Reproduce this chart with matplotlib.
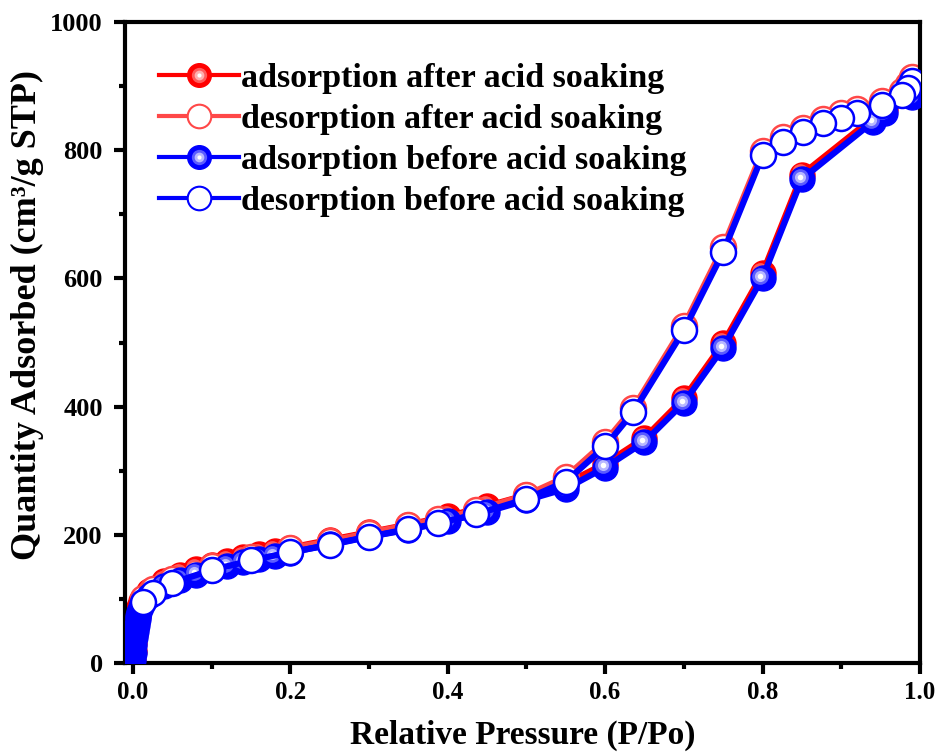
import numpy as np
import matplotlib
matplotlib.use("Agg")
import matplotlib.pyplot as plt
from matplotlib.lines import Line2D
from matplotlib.ticker import MultipleLocator, FormatStrFormatter
from matplotlib.transforms import ScaledTranslation

plt.rcParams['font.family'] = ['Liberation Serif', 'DejaVu Serif']
plt.rcParams['font.weight'] = 'bold'

#   Isotherm data (P/Po, cm3/g STP)
adsBeforeX = [0.0005, 0.001, 0.002, 0.003, 0.004, 0.005, 0.006, 0.007, 0.008, 0.01,
              0.02, 0.04, 0.06, 0.08, 0.10, 0.12, 0.14, 0.16, 0.18, 0.20,
              0.25, 0.30, 0.35, 0.40, 0.45, 0.50, 0.55, 0.60, 0.65, 0.70,
              0.75, 0.80, 0.85, 0.94, 0.955, 0.99]
adsBeforeY = [5, 15, 28, 40, 50, 60, 68, 74, 80, 88,
              105, 120, 130, 138, 145, 151, 157, 162, 167, 172,
              185, 197, 208, 221, 236, 254, 272, 305, 345, 406,
              492, 601, 755, 844, 858, 883]
adsAfterY = [7, 18, 32, 45, 56, 66, 75, 82, 88, 96,
             113, 128, 138, 146, 153, 159, 165, 170, 175, 180,
             192, 204, 216, 229, 245, 262, 280, 311, 351, 413,
             499, 608, 762, 850, 864, 889]

desX = [0.99, 0.985, 0.977, 0.952, 0.92, 0.90, 0.877, 0.851, 0.826, 0.80,
        0.75, 0.70, 0.636, 0.60, 0.55, 0.50, 0.436, 0.388, 0.35, 0.30,
        0.25, 0.20, 0.15, 0.10, 0.05, 0.025, 0.0125]
desBeforeY = [908, 897, 886, 870, 858, 851, 842, 828, 813, 792,
              641, 519, 392, 338, 283, 256, 232, 218, 209, 197,
              184, 173, 160, 145, 125, 110, 95]
desAfterY = [914, 903, 892, 877, 865, 858, 849, 835, 820, 799,
             649, 526, 398, 345, 290, 262, 238, 224, 215, 203,
             190, 179, 166, 151, 131, 116, 101]

labels = ['adsorption after acid soaking', 'desorption after acid soaking',
          'adsorption before acid soaking', 'desorption before acid soaking']

fig = plt.figure(figsize=(9.42, 7.53), dpi=100)
ax = fig.add_axes([0.1327, 0.1195, 0.8439, 0.8513])

red = '#ff0000'
redLight = '#ff4848'
blue = '#0000ff'
ms = 18
lw = 4.5
shift = ax.transData + ScaledTranslation(-1.5/72, 1.5/72, fig.dpi_scale_trans)

#   fake shaded sphere: soft glow + white spot, skipped in the crowded low P part
def sphere(x, y, glow, glow2, z):
    x = np.array(x)
    y = np.array(y)
    keep = x > 0.015
    ax.plot(x[keep], y[keep], 'o', ms=ms - 6, color=glow2, mec='none', zorder=z, transform=shift)
    ax.plot(x[keep], y[keep], 'o', ms=ms - 10, color=glow, mec='none', zorder=z, transform=shift)
    ax.plot(x[keep], y[keep], 'o', ms=ms - 14, color='white', mec='none', zorder=z, transform=shift)

#   After acid soaking (red) drawn first, underneath
ax.plot(adsBeforeX, adsAfterY, '-o', color=red, lw=lw, ms=ms, mec=red, zorder=2)
sphere(adsBeforeX, adsAfterY, '#ffb0b0', '#ff5c5c', 2.1)
ax.plot(desX, desAfterY, '-o', color=redLight, lw=lw, ms=ms, mfc='white',
        mec=redLight, mew=1.8, zorder=2.5)

#   Before acid soaking (blue) on top
ax.plot(adsBeforeX, adsBeforeY, '-o', color=blue, lw=lw, ms=ms, mec=blue, zorder=3)
sphere(adsBeforeX, adsBeforeY, '#b8b8ff', '#5c5cff', 3.1)
ax.plot(desX, desBeforeY, '-o', color=blue, lw=lw, ms=ms, mfc='white',
        mec=blue, mew=1.8, zorder=3.5)

#   Legend handles
lms = 17
h1 = (Line2D([], [], color=red, lw=3, marker='o', ms=lms, mec=red),
      Line2D([], [], ls='none', marker='o', ms=lms - 6, color='#ff5c5c', mec='none'),
      Line2D([], [], ls='none', marker='o', ms=lms - 10, color='#ffb0b0', mec='none'),
      Line2D([], [], ls='none', marker='o', ms=lms - 14, color='white', mec='none'))
h2 = Line2D([], [], color=redLight, lw=3, marker='o', ms=lms, mfc='white', mec=redLight, mew=1.5)
h3 = (Line2D([], [], color=blue, lw=3, marker='o', ms=lms, mec=blue),
      Line2D([], [], ls='none', marker='o', ms=lms - 6, color='#5c5cff', mec='none'),
      Line2D([], [], ls='none', marker='o', ms=lms - 10, color='#b8b8ff', mec='none'),
      Line2D([], [], ls='none', marker='o', ms=lms - 14, color='white', mec='none'))
h4 = Line2D([], [], color=blue, lw=3, marker='o', ms=lms, mfc='white', mec=blue, mew=1.5)
ax.legend([h1, h2, h3, h4], labels, loc='upper left', bbox_to_anchor=(0.026, 0.958),
          frameon=False, fontsize=24.5, handlelength=2.35, handletextpad=0.05,
          labelspacing=0.3, borderaxespad=0)

ax.set_xlim(-0.01, 1.0)
ax.set_ylim(0, 1000)
ax.xaxis.set_major_locator(MultipleLocator(0.2))
ax.xaxis.set_minor_locator(MultipleLocator(0.1))
ax.yaxis.set_major_locator(MultipleLocator(200))
ax.yaxis.set_minor_locator(MultipleLocator(100))
ax.xaxis.set_major_formatter(FormatStrFormatter('%.1f'))

for s in ax.spines.values():
    s.set_linewidth(3)
ax.tick_params(which='major', direction='out', length=8, width=3)
ax.tick_params(which='minor', direction='out', length=4.5, width=3)
ax.tick_params(axis='x', labelsize=18, pad=5)
ax.tick_params(axis='y', labelsize=19, pad=8)

ax.set_xlabel('Relative Pressure (P/Po)', fontsize=24, fontweight='bold', labelpad=11)
ax.set_ylabel('Quantity Adsorbed (cm³/g STP)', fontsize=26, fontweight='bold')
ax.yaxis.set_label_coords(-0.102, 0.543)

fig.savefig('out.png', dpi=100)
